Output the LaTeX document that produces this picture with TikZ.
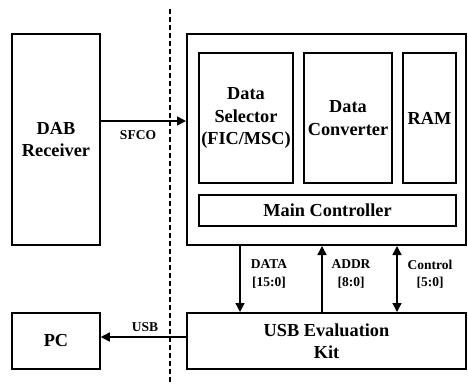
\documentclass[tikz,border=0pt]{standalone}
\usepackage{fontspec}
\setmainfont{Liberation Serif}
\usetikzlibrary{arrows.meta}
\tikzset{
  box/.style={draw, line width=1.5pt, inner sep=0pt, align=center,
    font=\fontsize{18.3}{22.5}\selectfont\bfseries},
  lbl/.style={inner sep=0pt, align=center, font=\fontsize{13.5}{17.5}\selectfont\bfseries},
  arr/.style={line width=1.5pt, -{Triangle[length=9pt,width=9pt]}},
  darr/.style={line width=1.5pt, {Triangle[length=9pt,width=9pt]}-{Triangle[length=9pt,width=9pt]}},
  sep/.style={line width=2pt, dash pattern=on 5pt off 3pt}
}
\begin{document}
\begin{tikzpicture}[x=1pt,y=-1pt]
\path[use as bounding box, fill=white] (0,0) rectangle (468,384);
\node[box, minimum width=88pt, minimum height=211pt] (dab) at (56,139.5) {DAB\\Receiver};
\node[box, line width=2pt, minimum width=279pt, minimum height=211pt] (big) at (326.5,139.5) {};
\node[box, minimum width=94pt, minimum height=130pt] (sel) at (246,118) {Data\\Selector\\(FIC/MSC)};
\node[box, minimum width=88pt, minimum height=130pt] (conv) at (348,118) {Data\\Converter};
\node[box, minimum width=53pt, minimum height=130pt] (ram) at (429.5,118) {RAM};
\node[box, minimum width=257pt, minimum height=31pt] (mc) at (327.5,210.5) {Main Controller};
\node[box, minimum width=88pt, minimum height=56pt] (pc) at (56,341) {PC};
\node[box, line width=2pt, minimum width=279pt, minimum height=56pt] (kit) at (326.5,341) {USB Evaluation\\Kit};
\coordinate (dtop) at (170,9);
\coordinate (dbot) at (170,384);
\draw[sep] (dtop) -- (dbot);
\draw[arr] ([yshift=18.5pt]dab.east) -- ([yshift=18.5pt]big.west);
\node[lbl] (sfco) at (138,135) {SFCO};
\draw[arr] ([yshift=4pt]kit.west) -- ([yshift=4pt]pc.east);
\node[lbl] (usb) at (145,327) {USB};
\draw[arr] ([xshift=-86.5pt]big.south) -- ([xshift=-86.5pt]kit.north);
\draw[arr] ([xshift=-4.5pt]kit.north) -- ([xshift=-4.5pt]big.south);
\draw[darr] ([xshift=70.5pt]big.south) -- ([xshift=70.5pt]kit.north);
\node[lbl] (data) at (269,274) {DATA\\{[15:0]}};
\node[lbl] (addr) at (351,274) {ADDR\\{[8:0]}};
\node[lbl] (ctrl) at (430,274) {Control\\{[5:0]}};
\end{tikzpicture}
\end{document}
